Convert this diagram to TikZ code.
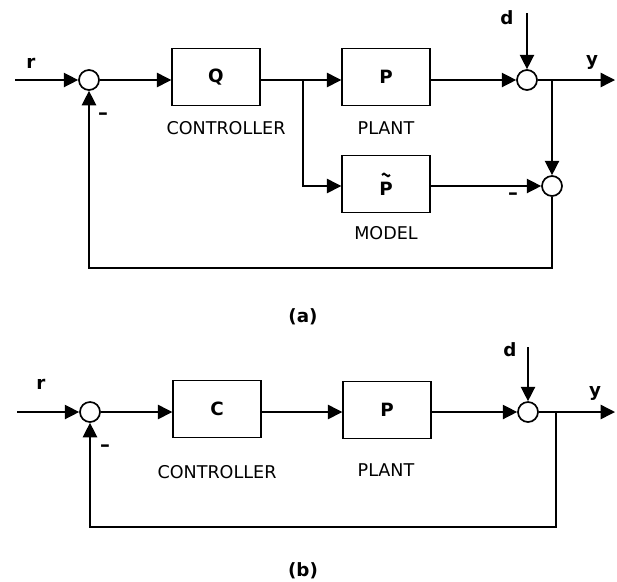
\documentclass[tikz,border=0pt]{standalone}
\usepackage{fontspec}
\setmainfont{DejaVu Sans}
\usetikzlibrary{arrows.meta}

\begin{document}
\begin{tikzpicture}[x=0.025cm, y=-0.025cm, line width=1pt,
    block/.style={draw, minimum width=2.2cm, minimum height=1.42cm, font=\bfseries\fontsize{13}{15}\selectfont},
    sumnode/.style={draw, circle, minimum size=0.5cm, inner sep=0pt, line width=1.2pt},
    tag/.style={font=\fontsize{12.5}{15}\selectfont},
    sig/.style={font=\bfseries\fontsize{13}{15}\selectfont},
    minus/.style={font=\bfseries\fontsize{14}{15}\selectfont},
    arr/.style={-{Triangle[length=3.6mm,width=3.6mm]}}]

            \useasboundingbox (0,0) rectangle (617,581);

            % (a) blocks and summing points
            \node[sumnode] (sa1) at (89,80) {};
            \node[block] (q) at (216,77) {Q};
            \node[block] (pa) at (386,77) {P};
            \node[block] (pt) at (386,184) {};
            \node[sig] (ptl) at (386,189) {P};
            \draw[line width=1.4pt] ([shift={(-4,-2)}]ptl.north) sin ++(2,-1.3) cos ++(2,1.3) sin ++(2,1.3) cos ++(2,-1.3);
            \node[sumnode] (sa2) at (527,80) {};
            \node[sumnode] (sa3) at (552,186) {};

            % (a) labels
            \node[sig] (ra) at (31,63) {r};
            \node[sig] (da) at (507,18) {d};
            \node[sig] (ya) at (592,62) {y};
            \node[tag] (ctla) at (226,128) {CONTROLLER};
            \node[tag] (plta) at (386,128) {PLANT};
            \node[tag] (mdla) at (386,233) {MODEL};
            \node[minus] (ma1) at (103,116) {–};
            \node[minus] (ma3) at (513,196) {–};
            \node[sig] (capa) at (303,317) {(a)};

            % (a) signal lines
            \coordinate (ina) at (15,80);
            \coordinate (dina) at (527,13);
            \coordinate (outa) at (615,80);
            \coordinate (bra) at (303,80);
            \coordinate (bya) at (sa3 |- sa2);
            \coordinate (fba) at (552,268);
            \draw[arr] (ina) -- (sa1);
            \draw[arr] (sa1) -- (sa1 -| q.west);
            \draw[arr] (q.east |- sa1) -- (sa1 -| pa.west);
            \draw[arr] (bra) |- (pt.west |- sa3);
            \draw[arr] (pa.east |- sa2) -- (sa2);
            \draw[arr] (dina) -- (sa2);
            \draw[arr] (sa2) -- (outa);
            \draw[arr] (bya) -- (sa3);
            \draw[arr] (pt.east |- sa3) -- (sa3);
            \draw[arr] (sa3) -- (fba) -| (sa1);

            % (b) blocks and summing points
            \node[sumnode] (sb1) at (90,412) {};
            \node[block] (c) at (217,409) {C};
            \node[block] (pb) at (387,410) {P};
            \node[sumnode] (sb2) at (528,412) {};

            % (b) labels
            \node[sig] (rb) at (41,384) {r};
            \node[sig] (db) at (510,350) {d};
            \node[sig] (yb) at (595,393) {y};
            \node[tag] (ctlb) at (217,472) {CONTROLLER};
            \node[tag] (pltb) at (386,470) {PLANT};
            \node[minus] (mb1) at (105,448) {–};
            \node[sig] (capb) at (303,571) {(b)};

            % (b) signal lines
            \coordinate (inb) at (17,412);
            \coordinate (dinb) at (528,347);
            \coordinate (outb) at (615,412);
            \coordinate (byb) at (556,412);
            \coordinate (fbb) at (556,527);
            \draw[arr] (inb) -- (sb1);
            \draw[arr] (sb1) -- (sb1 -| c.west);
            \draw[arr] (c.east |- sb1) -- (sb1 -| pb.west);
            \draw[arr] (pb.east |- sb2) -- (sb2);
            \draw[arr] (dinb) -- (sb2);
            \draw[arr] (sb2) -- (outb);
            \draw[arr] (byb) -- (fbb) -| (sb1);
\end{tikzpicture}
\end{document}
